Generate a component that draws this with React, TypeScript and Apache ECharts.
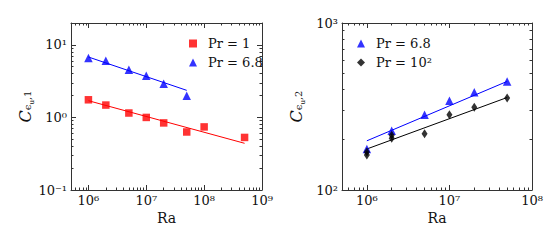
import React, { useEffect, useRef } from "react";
import * as echarts from "echarts";

// ---- data ----
const leftRaPr1 = [1e6, 2e6, 5e6, 1e7, 2e7, 5e7, 1e8, 5e8];
const leftCPr1 = [1.75, 1.48, 1.15, 1.0, 0.84, 0.63, 0.74, 0.53];
const leftRaPr68 = [1e6, 2e6, 5e6, 1e7, 2e7, 5e7];
const leftCPr68 = [6.6, 6.05, 4.55, 3.76, 2.92, 1.99];
const leftFitPr1Ra = [1e6, 5e8];
const leftFitPr1C = [1.7, 0.44];
const leftFitPr68Ra = [1e6, 5e7];
const leftFitPr68C = [6.8, 2.36];

const rightRaPr68 = [1e6, 2e6, 5e6, 1e7, 2e7, 5e7];
const rightCPr68 = [176, 226, 282, 342, 385, 447];
const rightRaPr100 = [1e6, 1e6, 2e6, 2e6, 5e6, 1e7, 2e7, 5e7];
const rightCPr100 = [169, 162, 213, 204, 217, 282, 313, 355];
const rightFitPr68Ra = [1e6, 5e7];
const rightFitPr68C = [197, 447];
const rightFitPr100Ra = [1e6, 5e7];
const rightFitPr100C = [176, 358];

// tick values
const leftXMajor = [1e6, 1e7, 1e8, 1e9];
const leftYMajor = [0.1, 1, 10];
const rightXMajor = [1e6, 1e7, 1e8];
const rightYMajor = [100, 1000];
const leftXDecades = [1e5, 1e6, 1e7, 1e8];
const leftYDecades = [0.1, 1, 10];
const rightXDecades = [1e5, 1e6, 1e7];
const rightYDecades = [100];
const minorMultipliers = [2, 3, 4, 5, 6, 7, 8, 9];

const X_NAME = "Ra";
const SERIF = "DejaVu Serif";
const AX = "#333";
const SUP: Record<string, string> = {
  "0": "⁰", "1": "¹", "2": "²", "3": "³", "4": "⁴", "5": "⁵",
  "6": "⁶", "7": "⁷", "8": "⁸", "9": "⁹", "-": "⁻",
};

const minorOf = (decades: number[]) => {
  const out: number[] = [];
  decades.forEach((d) => minorMultipliers.forEach((m) => out.push(+(d * m).toPrecision(6))));
  return out;
};

const zip = (xs: number[], ys: number[]) => xs.map((x, i) => [x, ys[i]]);

const tickLabel = (v: number) =>
  "10" + String(Math.round(Math.log10(v))).split("").map((c) => SUP[c] || c).join("");

function axis(
  gridIndex: number,
  position: string,
  min: number,
  max: number,
  ticks: number[],
  tickLen: number,
  showLine: boolean,
  labels: number[] | null,
  extra: any = {}
) {
  return {
    type: "log",
    logBase: 10,
    gridIndex,
    position,
    min,
    max,
    axisLine: { show: showLine, onZero: false, lineStyle: { color: AX, width: 1 } },
    axisTick: {
      show: true,
      inside: true,
      length: tickLen,
      customValues: ticks,
      lineStyle: { color: AX, width: 1 },
    },
    axisLabel: labels
      ? {
          show: true,
          customValues: labels,
          formatter: tickLabel,
          margin: 4,
          fontFamily: SERIF,
          fontSize: 13,
          color: "#111",
        }
      : { show: false },
    splitLine: { show: false },
    minorTick: { show: false },
    minorSplitLine: { show: false },
    ...extra,
  };
}

const yName = (idx: string) => `{c|C}{s|ϵ}{ss|u}{s|,${idx}}`;
const yNameStyle = {
  rich: {
    c: { fontFamily: SERIF, fontStyle: "italic", fontSize: 16, color: "#111", verticalAlign: "bottom" },
    s: { fontFamily: SERIF, fontSize: 10, color: "#111", verticalAlign: "bottom", padding: [0, 0, 1, 0] },
    ss: { fontFamily: SERIF, fontSize: 7, color: "#111", verticalAlign: "bottom", padding: [0, 0, -2, 0] },
  },
};
const yNameOpt = (idx: string) => ({
  name: yName(idx), nameLocation: "middle", nameGap: 38, nameRotate: 90, nameTextStyle: yNameStyle,
});

const legendBase = {
  orient: "vertical",
  top: 32,
  itemWidth: 8,
  itemHeight: 8,
  itemGap: 6,
  symbolKeepAspect: true,
  textStyle: { fontFamily: SERIF, fontSize: 13, color: "#111", padding: [0, 0, 0, 6] },
};

export default function App() {
  const ref = useRef<HTMLDivElement>(null);
  useEffect(() => {
    if (!ref.current) return;
    const chart = echarts.init(ref.current, undefined, { renderer: "svg" });
    const L = { left: 71, top: 23, width: 191, height: 167 };
    const R = { left: 342, top: 23, width: 190, height: 167 };
    const lxMin = 5e5, lxMax = 1e9, lyMin = 0.1, lyMax = 20;
    const rxMin = 5e5, rxMax = 1e8, ryMin = 100, ryMax = 1000;
    const lxMinor = minorOf(leftXDecades);
    const lyMinor = minorOf(leftYDecades);
    const rxMinor = minorOf(rightXDecades);
    const ryMinor = minorOf(rightYDecades);
    const nameText = (cx: number) => ({
      type: "text",
      x: cx,
      y: 218,
      silent: true,
      style: {
        text: X_NAME,
        fontFamily: SERIF,
        fontSize: 14,
        fill: "#111",
        align: "center",
        verticalAlign: "middle",
      },
    });

    chart.setOption({
      animation: false,
      backgroundColor: "#fff",
      grid: [
        { ...L, containLabel: false },
        { ...L, containLabel: false },
        { ...R, containLabel: false },
        { ...R, containLabel: false },
      ],
      graphic: [nameText(L.left + L.width / 2), nameText(R.left + R.width / 2)],
      xAxis: [
        axis(0, "bottom", lxMin, lxMax, leftXMajor, 5, true, leftXMajor),
        axis(0, "top", lxMin, lxMax, leftXMajor, 5, true, null),
        axis(1, "bottom", lxMin, lxMax, lxMinor, 2.5, false, null),
        axis(1, "top", lxMin, lxMax, lxMinor, 2.5, false, null),
        axis(2, "bottom", rxMin, rxMax, rightXMajor, 5, true, rightXMajor),
        axis(2, "top", rxMin, rxMax, rightXMajor, 5, true, null),
        axis(3, "bottom", rxMin, rxMax, rxMinor, 2.5, false, null),
        axis(3, "top", rxMin, rxMax, rxMinor, 2.5, false, null),
      ],
      yAxis: [
        axis(0, "left", lyMin, lyMax, leftYMajor, 5, true, leftYMajor),
        axis(0, "right", lyMin, lyMax, leftYMajor, 5, true, null),
        axis(1, "left", lyMin, lyMax, lyMinor, 2.5, false, null, yNameOpt("1")),
        axis(1, "right", lyMin, lyMax, lyMinor, 2.5, false, null),
        axis(2, "left", ryMin, ryMax, rightYMajor, 5, true, rightYMajor),
        axis(2, "right", ryMin, ryMax, rightYMajor, 5, true, null),
        axis(3, "left", ryMin, ryMax, ryMinor, 2.5, false, null, yNameOpt("2")),
        axis(3, "right", ryMin, ryMax, ryMinor, 2.5, false, null),
      ],
      legend: [
        { ...legendBase, data: ["Pr = 1", "Pr = 6.8"], left: 184 },
        { ...legendBase, data: ["Pr = 6.8", "Pr = 10²"], left: 352 },
      ],
      series: [
        {
          name: "fit-left-1", type: "line", xAxisIndex: 0, yAxisIndex: 0,
          data: zip(leftFitPr1Ra, leftFitPr1C), showSymbol: false, symbol: "none",
          lineStyle: { color: "#ff0000", width: 1 }, z: 1,
        },
        {
          name: "fit-left-68", type: "line", xAxisIndex: 0, yAxisIndex: 0,
          data: zip(leftFitPr68Ra, leftFitPr68C), showSymbol: false, symbol: "none",
          lineStyle: { color: "#0000ff", width: 1 }, z: 1,
        },
        {
          name: "Pr = 1", type: "scatter", xAxisIndex: 0, yAxisIndex: 0,
          data: zip(leftRaPr1, leftCPr1), symbol: "rect", symbolSize: 7.5,
          itemStyle: { color: "#ff0000" }, z: 3,
        },
        {
          name: "Pr = 6.8", type: "scatter", xAxisIndex: 0, yAxisIndex: 0,
          data: zip(leftRaPr68, leftCPr68), symbol: "triangle", symbolSize: 8.5,
          itemStyle: { color: "#0000ff" }, z: 3,
        },
        {
          name: "fit-right-68", type: "line", xAxisIndex: 4, yAxisIndex: 4,
          data: zip(rightFitPr68Ra, rightFitPr68C), showSymbol: false, symbol: "none",
          lineStyle: { color: "#0000ff", width: 1 }, z: 1,
        },
        {
          name: "fit-right-100", type: "line", xAxisIndex: 4, yAxisIndex: 4,
          data: zip(rightFitPr100Ra, rightFitPr100C), showSymbol: false, symbol: "none",
          lineStyle: { color: "#000000", width: 1 }, z: 1,
        },
        {
          name: "Pr = 6.8", type: "scatter", xAxisIndex: 4, yAxisIndex: 4,
          data: zip(rightRaPr68, rightCPr68), symbol: "triangle", symbolSize: 8.5,
          itemStyle: { color: "#0000ff" }, z: 3,
        },
        {
          name: "Pr = 10²", type: "scatter", xAxisIndex: 4, yAxisIndex: 4,
          data: zip(rightRaPr100, rightCPr100), symbol: "diamond", symbolSize: [6, 9],
          itemStyle: { color: "#000000" }, z: 3,
        },
      ],
    });
    return () => chart.dispose();
  }, []);
  return <div ref={ref} style={{ width: 560, height: 245, margin: -8 }} />;
}
